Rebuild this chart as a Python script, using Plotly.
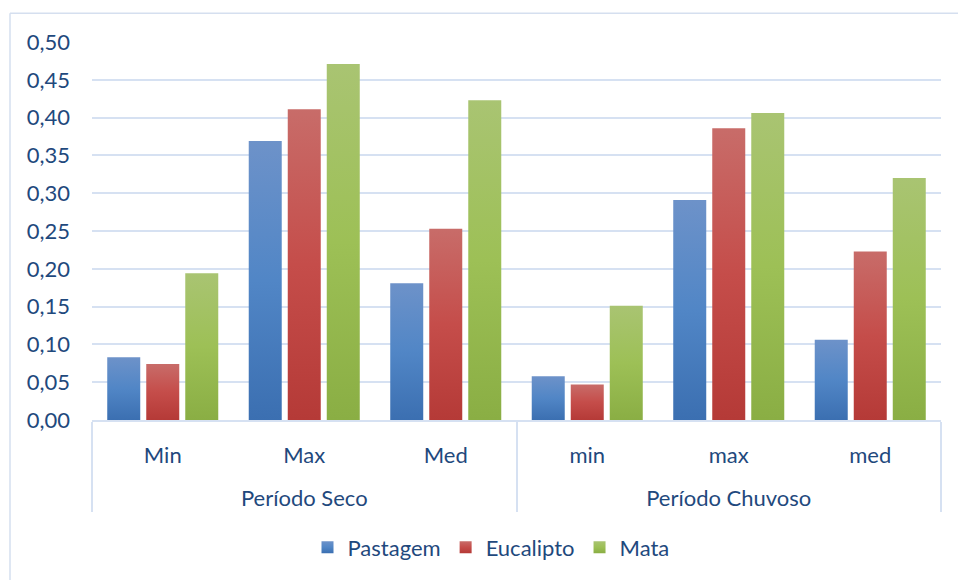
import plotly.graph_objects as go

# Categories: season (outer level) and statistic (inner level)
periods = ["<br>Período Seco"] * 3 + ["<br>Período Chuvoso"] * 3
stats = ["Min", "Max", "Med", "min", "max", "med"]

# Values per land cover
pastagem = [0.083, 0.369, 0.181, 0.058, 0.291, 0.106]
eucalipto = [0.074, 0.411, 0.253, 0.047, 0.386, 0.223]
mata = [0.194, 0.471, 0.423, 0.151, 0.406, 0.320]

y_ticks = [0.0, 0.05, 0.10, 0.15, 0.20, 0.25, 0.30, 0.35, 0.40, 0.45, 0.50]

TEXT = "#1F497D"
GRID = "#D6E1F2"
FONT = "Lato, 'Open Sans', sans-serif"
FS = 22

series = [
    ("Pastagem", pastagem, "#4F81BD"),
    ("Eucalipto", eucalipto, "#C0504D"),
    ("Mata", mata, "#9BBB59"),
]

fig = go.Figure()
for name, vals, color in series:
    fig.add_trace(go.Bar(
        x=[periods, stats], y=vals, name=name,
        marker=dict(color=color, line=dict(width=0)),
    ))

# chart-area frame: top and left edges
px = lambda v: (v - 92) / 849
py = lambda v: (422 - v) / 380
frame = [
    dict(type="line", xref="paper", yref="paper", x0=px(10), x1=px(960), y0=py(13), y1=py(13),
         line=dict(color="#D5DFEF", width=1.5)),
    dict(type="line", xref="paper", yref="paper", x0=px(10), x1=px(10), y0=py(13), y1=py(585),
         line=dict(color="#D5DFEF", width=1.5)),
]

fig.update_layout(
    width=958, height=580,
    margin=dict(l=92, r=17, t=42, b=158),
    paper_bgcolor="white", plot_bgcolor="white",
    separators=",.",
    barmode="group", bargap=0.173, bargroupgap=0.154,
    font=dict(family=FONT, size=FS, color=TEXT),
    showlegend=True,
    legend=dict(orientation="h", x=px(491), xanchor="center", y=-0.337, yanchor="middle",
                font=dict(size=FS, color=TEXT), itemwidth=30, traceorder="normal"),
    shapes=frame,
)

fig.update_yaxes(
    range=[0, 0.5], tickvals=y_ticks, tickformat=".2f",
    showgrid=True, gridcolor=GRID, gridwidth=2,
    zeroline=False, showline=False, ticks="", ticklabelstandoff=21,
    tickfont=dict(size=FS, color=TEXT),
)
fig.update_xaxes(
    type="multicategory", showline=True, linecolor=GRID, linewidth=2,
    showdividers=True, dividercolor=GRID, dividerwidth=2,
    ticks="", ticklabelstandoff=15, tickfont=dict(size=FS, color=TEXT),
)

# Vertical light-to-dark gradient on bars and legend swatches
post = """
var gd = document.getElementById('{plot_id}');
var grads = {
  'Pastagem': ['#6D92C9', '#5186C6', '#3B6FB1'],
  'Eucalipto': ['#C86C69', '#C54D4A', '#B53A37'],
  'Mata': ['#A9C472', '#9DC056', '#8AAE44']
};
function addDefs() {
  var svg = gd.querySelector('svg.main-svg');
  if (!svg || svg.querySelector('#grad-Mata')) return;
  var ns = 'http://www.w3.org/2000/svg';
  var defs = svg.querySelector('defs') || svg.insertBefore(document.createElementNS(ns, 'defs'), svg.firstChild);
  Object.keys(grads).forEach(function (k) {
    var lg = document.createElementNS(ns, 'linearGradient');
    lg.setAttribute('id', 'grad-' + k);
    lg.setAttribute('x1', '0'); lg.setAttribute('y1', '0');
    lg.setAttribute('x2', '0'); lg.setAttribute('y2', '1');
    [0, 50, 100].forEach(function (off, i) {
      var st = document.createElementNS(ns, 'stop');
      st.setAttribute('offset', off + '%');
      st.setAttribute('stop-color', grads[k][i]);
      lg.appendChild(st);
    });
    defs.appendChild(lg);
  });
}
function paint() {
  addDefs();
  gd.querySelectorAll('.barlayer .trace').forEach(function (tr) {
    var d = tr.__data__; if (!d || !d[0]) return;
    var nm = d[0].trace.name;
    tr.querySelectorAll('path').forEach(function (p) { p.style.fill = 'url(#grad-' + nm + ')'; });
  });
  gd.querySelectorAll('.legend .traces').forEach(function (tr) {
    var d = tr.__data__; if (!d || !d[0]) return;
    var nm = d[0].trace.name;
    tr.querySelectorAll('.legendpoints path').forEach(function (p) { p.style.fill = 'url(#grad-' + nm + ')'; });
  });
}
paint();
gd.on('plotly_afterplot', paint);
"""

fig.write_html("out.html", post_script=post)
